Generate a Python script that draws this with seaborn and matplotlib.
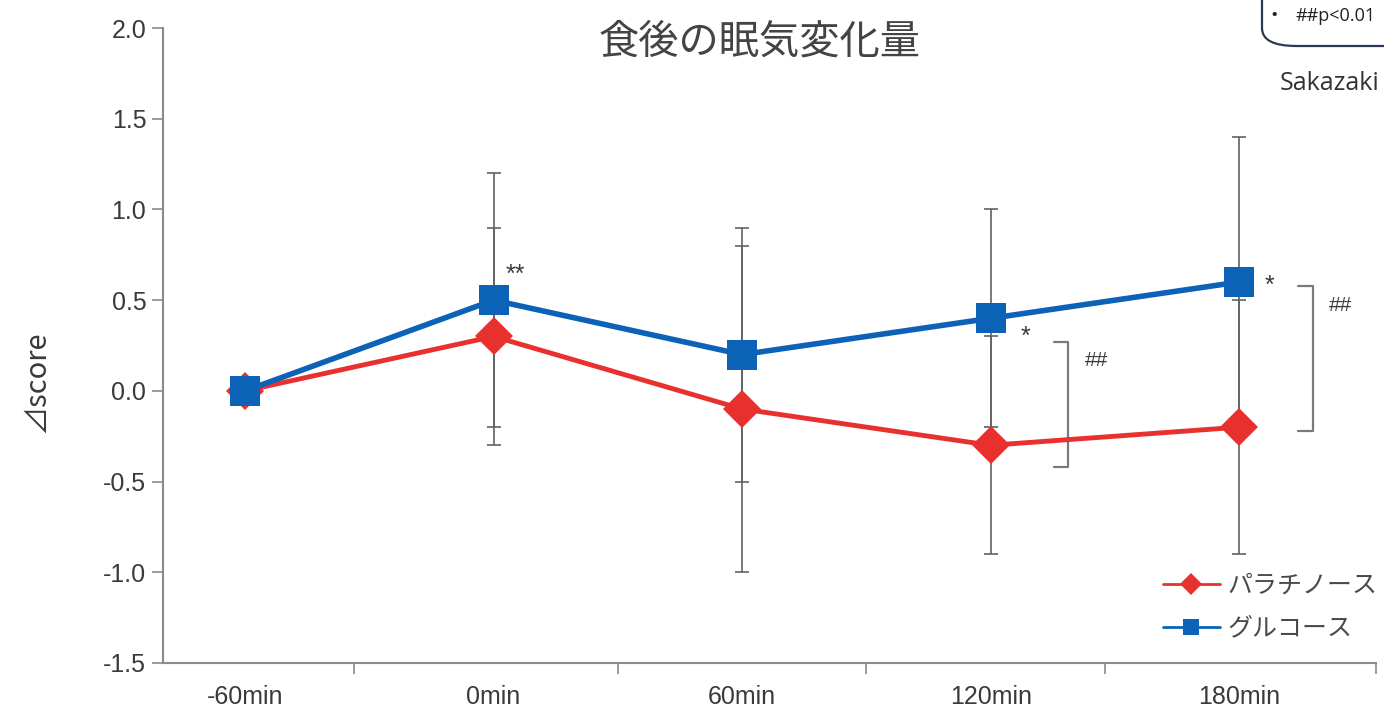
import matplotlib
matplotlib.use("Agg")
import matplotlib.pyplot as plt
from matplotlib.patches import FancyBboxPatch
import seaborn as sns
import numpy as np
import pandas as pd

# time points and series
timepoints = ["-60min", "0min", "60min", "120min", "180min"]
palatinose_mean = [0.0, 0.3, -0.1, -0.3, -0.2]
palatinose_sd = [0.0, 0.6, 0.9, 0.6, 0.7]
glucose_mean = [0.0, 0.5, 0.2, 0.4, 0.6]
glucose_sd = [0.0, 0.7, 0.7, 0.6, 0.8]
series_names = ["パラチノース", "グルコース"]
y_ticks = [-1.5, -1.0, -0.5, 0.0, 0.5, 1.0, 1.5, 2.0]

RED = "#E8312F"
BLUE = "#0B62B6"
GRAY = "#8a8a8a"
TXT = "#3a3a3a"

sns.set_theme(style="white")
plt.rcParams["font.family"] = ["Liberation Sans", "Noto Sans CJK JP", "DejaVu Sans"]

W, H = 1384, 713
fig = plt.figure(figsize=(W / 100, H / 100), dpi=100)
ax_left, ax_right, ax_top, ax_bot = 163, 1376, 28, 663
ax = fig.add_axes([ax_left / W, 1 - ax_bot / H, (ax_right - ax_left) / W, (ax_bot - ax_top) / H])

pos = np.arange(len(timepoints))
df = pd.DataFrame({
    "pos": np.concatenate([pos, pos]),
    "score": palatinose_mean + glucose_mean,
    "group": [series_names[0]] * len(pos) + [series_names[1]] * len(pos),
})

# error bars sit beneath the markers
for m, s in ((glucose_mean, glucose_sd), (palatinose_mean, palatinose_sd)):
    m = np.array(m); s = np.array(s)
    keep = s > 0
    ax.errorbar(pos[keep], m[keep], yerr=s[keep], fmt="none", ecolor="#626262",
                elinewidth=1.2, capsize=5, capthick=1.2, zorder=1)

sns.lineplot(data=df[df.group == series_names[0]], x="pos", y="score", ax=ax,
             color=RED, lw=3.5, marker="D", markersize=19, markeredgewidth=0,
             label=series_names[0], zorder=3)
sns.lineplot(data=df[df.group == series_names[1]], x="pos", y="score", ax=ax,
             color=BLUE, lw=4, marker="s", markersize=22, markeredgewidth=0,
             label=series_names[1], zorder=4)

ax.set_xlim(-0.33, 4.55)
ax.set_ylim(-1.5, 2.0)
ax.set_yticks(y_ticks)
ax.set_yticklabels([f"{v:.1f}" for v in y_ticks])
ax.set_xticks(pos)
ax.set_xticklabels(timepoints)
ax.set_xticks([0.44, 1.5, 2.5, 3.46, 4.55], minor=True)
ax.tick_params(axis="x", which="major", length=0, pad=16, labelsize=18, labelcolor=TXT)
ax.tick_params(axis="x", which="minor", length=8, width=1.2, color=GRAY, direction="out", bottom=True)
ax.tick_params(axis="y", length=8, width=1.2, color=GRAY, direction="out", left=True,
               pad=4, labelsize=18, labelcolor=TXT)
ax.set_xlabel("")
ax.set_ylabel("")
for side in ("top", "right"):
    ax.spines[side].set_visible(False)
for side in ("left", "bottom"):
    ax.spines[side].set_color(GRAY)
    ax.spines[side].set_linewidth(1.5)

# significance marks
ax.text(1.05, 0.64, "**", fontsize=18, color=TXT, ha="left", va="center")
ax.text(3.12, 0.30, "*", fontsize=18, color=TXT, ha="left", va="center")
ax.text(4.10, 0.58, "*", fontsize=18, color=TXT, ha="left", va="center")

# group-difference brackets
def bracket(x0, x1, y_top, y_bot):
    ax.plot([x0, x1, x1, x0], [y_top, y_top, y_bot, y_bot], color="#7a7a7a", lw=1.6, zorder=2)

bracket(3.255, 3.31, 0.27, -0.42)
ax.text(3.38, 0.17, "##", fontsize=15, color=TXT, ha="left", va="center")
bracket(4.235, 4.295, 0.58, -0.22)
ax.text(4.36, 0.47, "##", fontsize=15, color=TXT, ha="left", va="center")

leg = ax.legend(loc="lower left", bbox_to_anchor=((1140 - ax_left) / (ax_right - ax_left), 0.0),
                frameon=False, fontsize=18, handlelength=2.3, labelspacing=0.75,
                handletextpad=0.3, borderaxespad=0.5)
for t in leg.get_texts():
    t.set_color("#4a4a4a")
    t.set_fontstyle("italic")
for h in leg.legend_handles:
    h.set_markersize(11)
    h.set_linewidth(2)

fig.text(760 / W, 1 - 42 / H, "食後の眠気変化量", ha="center", va="center",
         fontsize=29, color="#444444", family=["Noto Sans CJK JP", "DejaVu Sans"])
fig.text(36 / W, 1 - 382 / H, "⊿score", rotation=90, ha="center", va="center",
         fontsize=21, color=TXT, family=["Noto Sans CJK JP", "DejaVu Sans"])

# note box in the top-right corner
box = FancyBboxPatch((1262 / W, 1 - 46 / H), 300 / W, 120 / H,
                     boxstyle="round,pad=0,rounding_size=0.025", transform=fig.transFigure,
                     facecolor="white", edgecolor="#2b3a55", lw=1.6, clip_on=False)
fig.patches.append(box)
fig.text(1270 / W, 1 - 16 / H, "•", fontsize=14, color="#222222", ha="left", va="center",
         family="Open Sans")
fig.text(1296 / W, 1 - 16 / H, "##p<0.01", fontsize=13, color="#222222", ha="left",
         va="center", family="Open Sans")
fig.text(1280 / W, 1 - 84 / H, "Sakazaki", fontsize=18, color="#333333", ha="left",
         va="center", family="Open Sans")

fig.savefig("out.png", dpi=100)
